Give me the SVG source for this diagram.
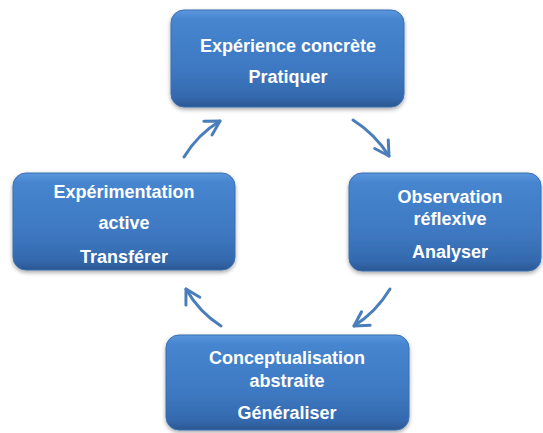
<svg xmlns="http://www.w3.org/2000/svg" width="543" height="433" viewBox="0 0 543 433">
<defs>
<linearGradient id="g" x1="0" y1="0" x2="0" y2="1">
<stop offset="0" stop-color="#5b97dd"/>
<stop offset="0.1" stop-color="#4685cf"/>
<stop offset="0.6" stop-color="#3e79c2"/>
<stop offset="0.9" stop-color="#3469ae"/>
<stop offset="1" stop-color="#2b5791"/>
</linearGradient>
<filter id="sh" x="-10%" y="-10%" width="120%" height="130%">
<feDropShadow dx="0" dy="2" stdDeviation="2" flood-color="#000" flood-opacity="0.35"/>
</filter>
<marker id="ah" viewBox="0 0 20 20" refX="17" refY="10" markerWidth="20" markerHeight="20" markerUnits="userSpaceOnUse" orient="auto">
<path d="M3,2 L17,10 L3,18" fill="none" stroke="#4a7ebb" stroke-width="3" stroke-linecap="round" stroke-linejoin="round"/>
</marker>
</defs>
<style>
.box{fill:url(#g);stroke:#3a6fb0;stroke-width:1;filter:url(#sh)}
.t{font-family:"Liberation Sans",Arial,sans-serif;font-weight:bold;font-size:18px;fill:#fff;text-anchor:middle}
.c{fill:none;stroke:#4a7ebb;stroke-width:3;stroke-linecap:round;marker-end:url(#ah)}
</style>
<g id="connectors">
<path class="c" d="M184,157 Q198,134 220,121"/>
<path class="c" d="M353,120 Q375,134 389,156"/>
<path class="c" d="M390,289 Q376,312 354,326"/>
<path class="c" d="M221,326 Q199,312 186,289"/>
</g>
<g id="n1">
<rect class="box" x="171" y="10" width="233" height="97" rx="13"/>
<text class="t" x="288" y="52">Expérience concrète</text>
<text class="t" x="288" y="83">Pratiquer</text>
</g>
<g id="n2">
<rect class="box" x="349" y="173" width="192" height="98" rx="13"/>
<text class="t" x="450" y="203">Observation</text>
<text class="t" x="450" y="225">réflexive</text>
<text class="t" x="450" y="258">Analyser</text>
</g>
<g id="n3">
<rect class="box" x="166" y="335" width="243" height="95" rx="13"/>
<text class="t" x="287" y="364">Conceptualisation</text>
<text class="t" x="287" y="387">abstraite</text>
<text class="t" x="287" y="419">Généraliser</text>
</g>
<g id="n4">
<rect class="box" x="13" y="173" width="222" height="97" rx="13"/>
<text class="t" x="124" y="198">Expérimentation</text>
<text class="t" x="124" y="229">active</text>
<text class="t" x="124" y="263">Transférer</text>
</g>
</svg>
